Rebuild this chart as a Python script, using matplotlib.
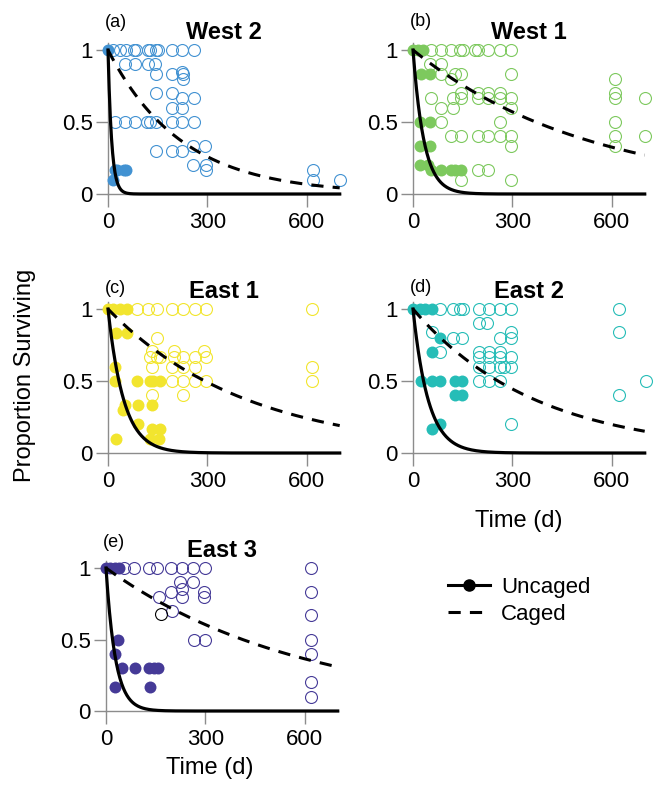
import numpy as np
import matplotlib.pyplot as plt
from matplotlib.lines import Line2D

plt.rcParams['font.family'] = ['Liberation Sans', 'DejaVu Sans']

sites = ['West 2', 'West 1', 'East 1', 'East 2', 'East 3']
panel_tags = ['(a)', '(b)', '(c)', '(d)', '(e)']
site_colors = ['#4292d2', '#7dc95e', '#f2e52e', '#26bdb7', '#453a97']

# fitted daily loss rates, exponential survival
rate_uncaged = [0.09, 0.03, 0.021, 0.0217, 0.035]
rate_caged = [0.0045, 0.00187, 0.00237, 0.0027, 0.00168]

# caged plots: proportion surviving -> days it was seen at
west2_caged = {
    1.0: [15, 35, 55, 80, 85, 120, 128, 145, 150, 192, 225, 260],
    0.9: [50, 81, 121, 141],
    0.85: [225], 0.83: [144, 192, 227], 0.8: [227],
    0.7: [144, 192], 0.67: [225, 260], 0.6: [192, 225],
    0.5: [20, 50, 81, 118, 126, 146, 192, 225, 260],
    0.33: [258, 293], 0.3: [144, 192, 225], 0.2: [258, 296],
    0.17: [296, 618], 0.1: [618, 700],
}
west1_caged = {
    1.0: [55, 86, 116, 141, 152, 187, 197, 228, 263, 295],
    0.9: [50, 86], 0.83: [86, 126, 146, 295], 0.8: [116, 610],
    0.7: [146, 197, 228, 263, 610],
    0.67: [55, 121, 146, 197, 228, 263, 295, 610, 700],
    0.6: [86, 121, 295], 0.5: [86, 263, 610],
    0.4: [116, 146, 197, 228, 263, 295, 610, 700],
    0.33: [295, 610], 0.17: [197, 228], 0.1: [146, 295],
}
east1_caged = {
    1.0: [87, 122, 148, 193, 227, 263, 295, 615],
    0.8: [148], 0.71: [132, 198, 290],
    0.67: [127, 148, 158, 198, 227, 263, 295],
    0.6: [132, 193, 227, 263, 615],
    0.5: [193, 227, 263, 295, 615], 0.4: [132, 227],
}
east2_caged = {
    1.0: [82, 122, 142, 152, 198, 229, 264, 296, 621],
    0.9: [198, 223], 0.84: [56, 296, 621], 0.8: [122, 147, 264, 296],
    0.7: [82, 198, 229, 264], 0.67: [198, 229, 264, 296],
    0.6: [198, 229, 264, 274, 296], 0.5: [198, 229, 264, 705],
    0.4: [621], 0.2: [296],
}
east3_caged = {
    1.0: [53, 84, 129, 155, 195, 231, 264, 298, 620],
    0.9: [225, 264], 0.85: [231], 0.83: [195, 295, 620],
    0.8: [160, 231, 295], 0.7: [200], 0.67: [620],
    0.5: [266, 298, 620], 0.4: [620], 0.2: [620], 0.1: [620],
}
# one caged plot in East 3 drawn in black
east3_black_t = [165]
east3_black_s = [0.68]

# uncaged plots
west2_uncaged_t = [0, 14, 21, 28, 48, 55]
west2_uncaged_s = [1, 0.1, 0.17, 0.17, 0.17, 0.17]
west1_uncaged_t = [0, 15, 30, 25, 50, 20, 52, 20, 52, 20, 45, 55, 86, 116, 126, 146]
west1_uncaged_s = [1, 1, 1, 0.83, 0.83, 0.5, 0.5, 0.33, 0.33, 0.2, 0.2,
                   0.17, 0.17, 0.17, 0.17, 0.17]
east1_uncaged_t = [0, 15, 35, 56, 25, 56, 20, 20, 87, 127, 137, 158, 51, 92, 132,
                   46, 92, 132, 158, 23, 127, 153]
east1_uncaged_s = [1, 1, 1, 1, 0.83, 0.83, 0.6, 0.5, 0.5, 0.5, 0.5, 0.5, 0.33, 0.33,
                   0.33, 0.3, 0.2, 0.17, 0.17, 0.1, 0.1, 0.1]
east2_uncaged_t = [0, 20, 35, 56, 82, 56, 25, 56, 82, 127, 147, 127, 147, 82, 56]
east2_uncaged_s = [1, 1, 1, 1, 0.8, 0.7, 0.5, 0.5, 0.5, 0.5, 0.5, 0.4, 0.4, 0.2, 0.17]
east3_uncaged_t = [0, 13, 28, 38, 35, 28, 48, 89, 129, 145, 158, 28, 132]
east3_uncaged_s = [1, 1, 1, 1, 0.5, 0.4, 0.3, 0.3, 0.3, 0.3, 0.3, 0.17, 0.17]

caged_sets = [west2_caged, west1_caged, east1_caged, east2_caged, east3_caged]
uncaged_sets = [(west2_uncaged_t, west2_uncaged_s), (west1_uncaged_t, west1_uncaged_s),
                (east1_uncaged_t, east1_uncaged_s), (east2_uncaged_t, east2_uncaged_s),
                (east3_uncaged_t, east3_uncaged_s)]

W, H = 656, 789
fig = plt.figure(figsize=(W / 100, H / 100), dpi=100)

# pixel position of day 0, survival 1 and survival 0 for each panel
origins = [(108, 50, 194), (413, 50, 194), (108, 309, 453), (413, 309, 453), (106, 568, 711)]
px_day = 0.331
xlo, xhi, ylo, yhi = -30, 720, -0.08, 1.1
tag_y = [1.19, 1.2, 1.14, 1.15, 1.18]

days = np.linspace(0, 700, 400)
gray = '#8c8c8c'

for i, (x0, y1, y0) in enumerate(origins):
    py = y0 - y1
    left = x0 + xlo * px_day
    right = x0 + xhi * px_day
    top = y1 - (yhi - 1) * py
    bottom = y0 - ylo * py
    ax = fig.add_axes([left / W, 1 - bottom / H, (right - left) / W, (bottom - top) / H])
    ax.set_xlim(xlo, xhi)
    ax.set_ylim(ylo, yhi)
    c = site_colors[i]

    ts, ss = [], []
    for lev, tt in caged_sets[i].items():
        ts += tt
        ss += [lev] * len(tt)
    ax.plot(ts, ss, 'o', mfc='none', mec=c, ms=8.6, mew=0.8, zorder=2, clip_on=False)
    if i == 4:
        ax.plot(east3_black_t, east3_black_s, 'o', mfc='none', mec='k', ms=8.6, mew=0.8, zorder=2)
    ut, us = uncaged_sets[i]
    ax.plot(ut, us, 'o', mfc=c, mec=c, ms=8.6, mew=0, zorder=2, clip_on=False)

    ax.plot(days, np.exp(-rate_uncaged[i] * days), color='k', lw=2.3, zorder=3)
    ax.plot(days, np.exp(-rate_caged[i] * days), color='k', lw=2.2, ls=(0, (4, 3)), zorder=3)

    for side in ['top', 'right']:
        ax.spines[side].set_visible(False)
    ax.spines['left'].set_position(('data', 0))
    ax.spines['bottom'].set_position(('data', 0))
    ax.spines['left'].set_bounds(0, 1.05)
    ax.spines['bottom'].set_bounds(0, 700)
    for side in ['left', 'bottom']:
        ax.spines[side].set_color(gray)
        ax.spines[side].set_linewidth(1)
        ax.spines[side].set_zorder(1)
    ax.set_xticks([0, 300, 600])
    ax.set_yticks([0, 0.5, 1])
    ax.set_yticklabels(['0', '0.5', '1'])
    ax.tick_params(axis='both', direction='out', length=9, width=1, color=gray, labelsize=16)
    ax.tick_params(axis='y', pad=2)
    ax.tick_params(axis='x', pad=4)
    ax.patch.set_visible(False)

    ax.text(350, 1.12, sites[i], ha='center', va='center', fontsize=17, fontweight='bold')
    ax.text(-8, tag_y[i], panel_tags[i], ha='left', va='center', fontsize=13, clip_on=False)

fig.text(25 / W, 1 - 375 / H, 'Proportion Surviving', rotation=90, ha='center', va='center', fontsize=17)
fig.text(519 / W, 1 - 521 / H, 'Time (d)', ha='center', va='center', fontsize=17)
fig.text(210 / W, 1 - 768 / H, 'Time (d)', ha='center', va='center', fontsize=17)

handles = [Line2D([], [], color='k', lw=2.2, marker='o', ms=8),
           Line2D([], [], color='k', lw=2.2, ls=(0, (4, 3)))]
fig.legend(handles, ['Uncaged', 'Caged'], loc='center left',
           bbox_to_anchor=(448 / W, 1 - 601 / H), frameon=False, fontsize=16,
           handlelength=1.9, handletextpad=0.5, borderpad=0, borderaxespad=0,
           labelspacing=0.25)

fig.savefig('out.png', dpi=100)
